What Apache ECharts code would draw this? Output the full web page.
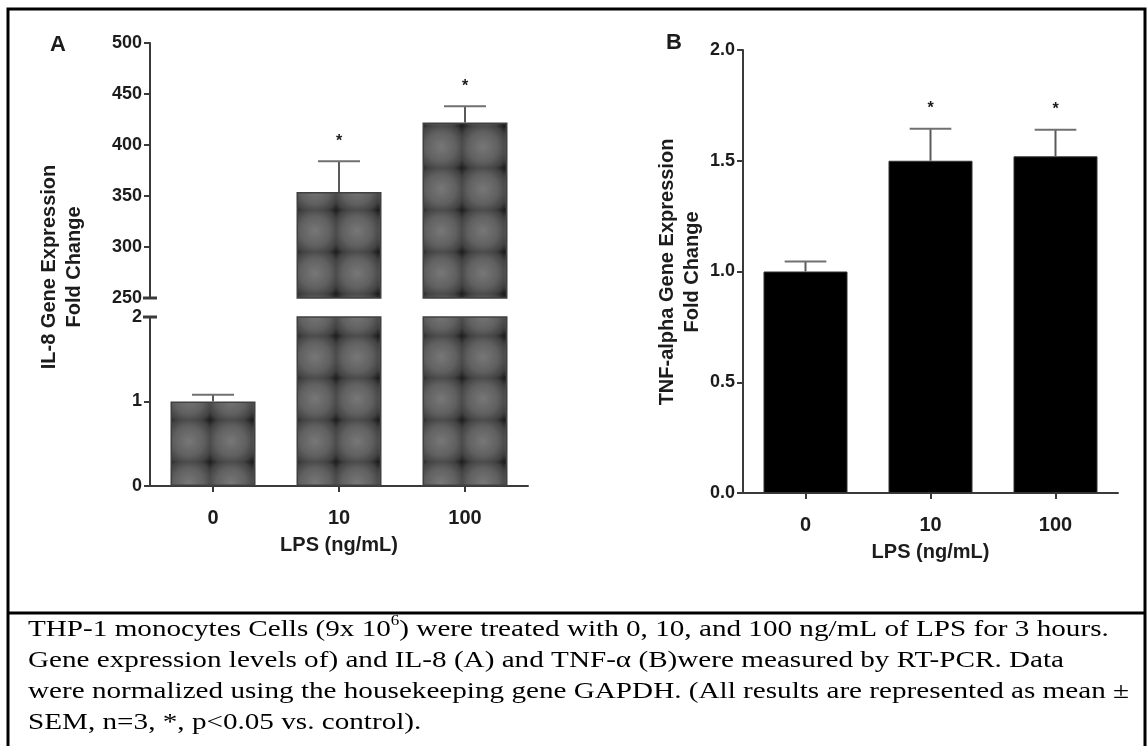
<!DOCTYPE html>
<html>
<head>
<meta charset="utf-8">
<script src="https://cdn.jsdelivr.net/npm/echarts@6/dist/echarts.min.js"></script>
<style>
	html, body { margin: 0; padding: 0; background: #fff; }
	#chart { width: 1148px; height: 746px; }
</style>
</head>
<body>
<div id="chart"></div>
<script>
// 数据：LPS 剂量与基因表达倍数变化（均值 ± SEM）
const doses = ['0', '10', '100'];
const il8Mean = [1.0, 354, 422];
const il8Sem = [0.08, 30, 16];
const il8Sig = ['', '*', '*'];
const tnfMean = [1.0, 1.5, 1.52];
const tnfSem = [0.045, 0.145, 0.12];
const tnfSig = ['', '*', '*'];

const breakAt = 250; // 图A纵轴断开处（上段起点）
const lowMax = 2; // 图A纵轴下段终点

const captionLines = [
	'THP-1 monocytes Cells (9x 10{sup|6}) were treated with 0, 10, and 100 ng/mL of LPS for 3 hours.',
	'Gene expression levels of) and IL-8 (A) and TNF-α (B)were measured by RT-PCR. Data',
	'were normalized using the housekeeping gene GAPDH. (All results are represented as mean ±',
	'SEM, n=3, *, p<0.05 vs. control).',
];

const ink = '#1c1c1c';
const axisColor = '#3a3a3a';

// 灰色格子纹理（图A柱子）
function makeTile() {
	const c = document.createElement('canvas');
	c.width = c.height = 42;
	const ctx = c.getContext('2d');
	const g = ctx.createRadialGradient(21, 21, 0, 21, 21, 30);
	g.addColorStop(0, '#777');
	g.addColorStop(0.5, '#606060');
	g.addColorStop(0.8, '#424242');
	g.addColorStop(1, '#1a1a1a');
	ctx.fillStyle = g;
	ctx.fillRect(0, 0, 42, 42);
	return c;
}
const tile = makeTile();

// 误差线 + 显著性星号
function errorSeries(xIdx, yIdx, means, sems, sigs, keep) {
	const data = [];
	means.forEach((m, i) => {
		if (keep(m, sems[i])) data.push([i, m, sems[i]]);
	});
	return {
		type: 'custom',
		xAxisIndex: xIdx,
		yAxisIndex: yIdx,
		z: 5,
		clip: false,
		encode: { x: 0, y: 1 },
		data: data,
		renderItem: function (params, api) {
			const i = api.value(0);
			const base = api.coord([i, api.value(1)]);
			const top = api.coord([i, api.value(1) + api.value(2)]);
			const half = api.size([1, 0])[0] / 6;
			const children = [
				{ type: 'line', shape: { x1: base[0], y1: base[1], x2: top[0], y2: top[1] }, style: { stroke: '#5a5a5a', lineWidth: 2 } },
				{ type: 'line', shape: { x1: top[0] - half, y1: top[1], x2: top[0] + half, y2: top[1] }, style: { stroke: '#707070', lineWidth: 2 } },
			];
			if (sigs[i]) {
				children.push({
					type: 'text',
					style: { text: sigs[i], x: top[0], y: top[1] - 20, font: 'bold 16px Arial', fill: ink, align: 'center', verticalAlign: 'middle' },
				});
			}
			return { type: 'group', children: children };
		},
	};
}

function valueAxis(grid, min, max, interval, fmt, symbol) {
	return {
		type: 'value',
		gridIndex: grid,
		min: min,
		max: max,
		interval: interval,
		splitLine: { show: false },
		axisLine: {
			show: true,
			lineStyle: { color: axisColor, width: 2 },
			symbol: symbol || ['none', 'none'],
			symbolSize: [14, 3],
		},
		axisTick: { show: true, length: 6, lineStyle: { color: axisColor, width: 2 } },
		axisLabel: { color: ink, fontFamily: 'Arial', fontWeight: 'bold', fontSize: 18, margin: 8, formatter: fmt },
	};
}

function catAxis(grid, visible) {
	return {
		type: 'category',
		gridIndex: grid,
		data: doses,
		show: visible,
		axisLine: { show: true, lineStyle: { color: axisColor, width: 2 } },
		axisTick: { show: true, alignWithLabel: true, length: 6, lineStyle: { color: axisColor, width: 2 } },
		axisLabel: { color: ink, fontFamily: 'Arial', fontWeight: 'bold', fontSize: 20, margin: 22 },
		name: 'LPS (ng/mL)',
		nameLocation: 'middle',
		nameGap: 49,
		nameTextStyle: { color: ink, fontFamily: 'Arial', fontWeight: 'bold', fontSize: 20 },
	};
}

const myChart = echarts.init(document.getElementById('chart'));
myChart.setOption({
	backgroundColor: '#fff',
	animation: false,
	grid: [
		{ left: 150, top: 43, width: 378, height: 255 }, // 图A上段
		{ left: 150, top: 317, width: 378, height: 169 }, // 图A下段
		{ left: 743, top: 50, width: 375, height: 443 }, // 图B
	],
	xAxis: [catAxis(0, false), catAxis(1, true), catAxis(2, true)],
	yAxis: [
		valueAxis(0, breakAt, 500, 50, null, ['rect', 'none']),
		valueAxis(1, 0, lowMax, 1, null, ['none', 'rect']),
		valueAxis(2, 0, 2, 0.5, (v) => v.toFixed(1)),
	],
	series: [
		{
			type: 'bar',
			xAxisIndex: 0,
			yAxisIndex: 0,
			barWidth: 85,
			data: il8Mean.map((v) => (v >= breakAt ? v : '-')),
			itemStyle: { color: { image: tile, repeat: 'repeat' }, borderColor: '#404040', borderWidth: 1.5 },
		},
		{
			type: 'bar',
			xAxisIndex: 1,
			yAxisIndex: 1,
			barWidth: 85,
			data: il8Mean,
			itemStyle: { color: { image: tile, repeat: 'repeat' }, borderColor: '#404040', borderWidth: 1.5 },
		},
		errorSeries(0, 0, il8Mean, il8Sem, il8Sig, (m) => m >= breakAt),
		errorSeries(1, 1, il8Mean, il8Sem, il8Sig, (m, s) => m + s <= lowMax),
		{
			type: 'bar',
			xAxisIndex: 2,
			yAxisIndex: 2,
			barWidth: 84,
			data: tnfMean,
			itemStyle: { color: '#000', borderColor: '#333', borderWidth: 1 },
		},
		errorSeries(2, 2, tnfMean, tnfSem, tnfSig, () => true),
	],
	graphic: [
		// 外框与分隔线
		{ type: 'rect', shape: { x: 8, y: 9, width: 1137, height: 800 }, style: { fill: 'none', stroke: '#000', lineWidth: 3 } },
		{ type: 'line', shape: { x1: 8, y1: 613, x2: 1145, y2: 613 }, style: { stroke: '#000', lineWidth: 3 } },
		// 面板字母
		{ type: 'text', x: 58, y: 45, style: { text: 'A', font: 'bold 22px Arial', fill: ink, align: 'center', verticalAlign: 'middle' } },
		{ type: 'text', x: 674, y: 43, style: { text: 'B', font: 'bold 22px Arial', fill: ink, align: 'center', verticalAlign: 'middle' } },
		// 纵轴标题
		{
			type: 'text', x: 62, y: 267, rotation: Math.PI / 2,
			style: { text: 'IL-8 Gene Expression\nFold Change', font: 'bold 20px Arial', lineHeight: 25, fill: ink, align: 'center', verticalAlign: 'middle' },
		},
		{
			type: 'text', x: 680, y: 272, rotation: Math.PI / 2,
			style: { text: 'TNF-alpha Gene Expression\nFold Change', font: 'bold 20px Arial', lineHeight: 25, fill: ink, align: 'center', verticalAlign: 'middle' },
		},
		// 图注（原图文字横向略拉伸）
		{
			type: 'text', x: 28, y: 614, scaleX: 1.215,
			style: {
				text: captionLines.join('\n'),
				font: '24px "Liberation Serif"',
				lineHeight: 31,
				fill: '#000',
				rich: {
					sup: { font: '14px "Liberation Serif"', lineHeight: 18, verticalAlign: 'top', fill: '#000' },
				},
			},
		},
	],
});
</script>
</body>
</html>
